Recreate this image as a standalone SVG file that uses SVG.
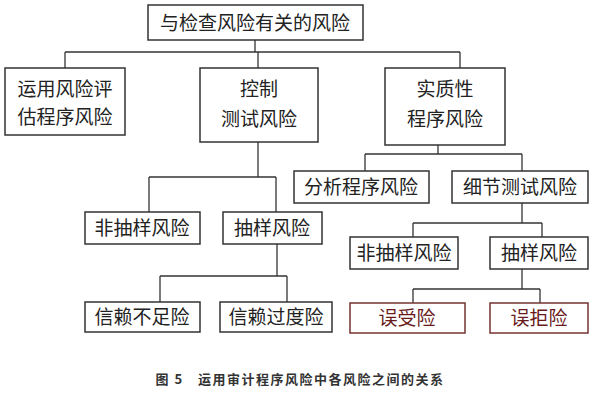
<svg xmlns="http://www.w3.org/2000/svg" width="600" height="400" viewBox="0 0 600 400">
<style>
rect{fill:#fff;stroke:#333;stroke-width:1.5}
.c line{stroke:#333;stroke-width:1.3}
text{font-family:"Noto Sans CJK SC",sans-serif;font-size:19px;fill:#222;text-anchor:middle}
.r rect{stroke:#733}
.r text{fill:#6a1a1a}
.cap{font-family:"Noto Sans CJK SC",serif;font-size:13px;font-weight:bold;letter-spacing:1.5px;fill:#333}
</style>
<rect x="0" y="0" width="600" height="400" style="stroke:none"/>
<g class="c">
<line x1="255" y1="40" x2="255" y2="52"/><line x1="65" y1="52" x2="460" y2="52"/>
<line x1="65" y1="52" x2="65" y2="68"/><line x1="258" y1="52" x2="258" y2="68"/><line x1="460" y1="52" x2="460" y2="68"/>
<line x1="258" y1="142" x2="258" y2="177"/><line x1="149" y1="177" x2="276" y2="177"/>
<line x1="149" y1="177" x2="149" y2="212"/><line x1="276" y1="177" x2="276" y2="212"/>
<line x1="277" y1="244" x2="277" y2="276"/><line x1="160" y1="276" x2="287" y2="276"/>
<line x1="160" y1="276" x2="160" y2="302"/><line x1="287" y1="276" x2="287" y2="302"/>
<line x1="438" y1="145" x2="438" y2="154"/><line x1="365" y1="154" x2="522" y2="154"/>
<line x1="365" y1="154" x2="365" y2="171"/><line x1="522" y1="154" x2="522" y2="171"/>
<line x1="522" y1="203" x2="522" y2="223"/><line x1="413" y1="223" x2="542" y2="223"/>
<line x1="413" y1="223" x2="413" y2="237"/><line x1="542" y1="223" x2="542" y2="237"/>
<line x1="522" y1="269" x2="522" y2="289"/><line x1="413" y1="289" x2="540" y2="289"/>
<line x1="413" y1="289" x2="413" y2="303"/><line x1="540" y1="289" x2="540" y2="303"/>
</g>
<g id="top"><rect x="148" y="5" width="215" height="35"/><text x="255" y="30">与检查风险有关的风险</text></g>
<g id="n1"><rect x="5" y="68" width="120" height="67"/><text x="65" y="96">运用风险评</text><text x="65" y="124">估程序风险</text></g>
<g id="n2"><rect x="200" y="68" width="118" height="74"/><text x="259" y="96">控制</text><text x="259" y="126">测试风险</text></g>
<g id="n3"><rect x="385" y="68" width="120" height="77"/><text x="445" y="96">实质性</text><text x="445" y="126">程序风险</text></g>
<g id="n4"><rect x="85" y="212" width="115" height="32"/><text x="142" y="235">非抽样风险</text></g>
<g id="n5"><rect x="223" y="212" width="99" height="32"/><text x="272" y="235">抽样风险</text></g>
<g id="n6"><rect x="85" y="302" width="115" height="30"/><text x="142" y="324">信赖不足险</text></g>
<g id="n7"><rect x="220" y="302" width="112" height="30"/><text x="276" y="324">信赖过度险</text></g>
<g id="n8"><rect x="294" y="171" width="135" height="32"/><text x="361" y="194">分析程序风险</text></g>
<g id="n9"><rect x="452" y="171" width="136" height="32"/><text x="520" y="194">细节测试风险</text></g>
<g id="n10"><rect x="350" y="237" width="108" height="32"/><text x="404" y="260">非抽样风险</text></g>
<g id="n11"><rect x="490" y="237" width="98" height="32"/><text x="539" y="260">抽样风险</text></g>
<g id="n12" class="r"><rect x="350" y="303" width="115" height="30"/><text x="407" y="325">误受险</text></g>
<g id="n13" class="r"><rect x="490" y="303" width="98" height="30"/><text x="539" y="325">误拒险</text></g>
<text class="cap" x="300" y="384">图 5　运用审计程序风险中各风险之间的关系</text>
</svg>
